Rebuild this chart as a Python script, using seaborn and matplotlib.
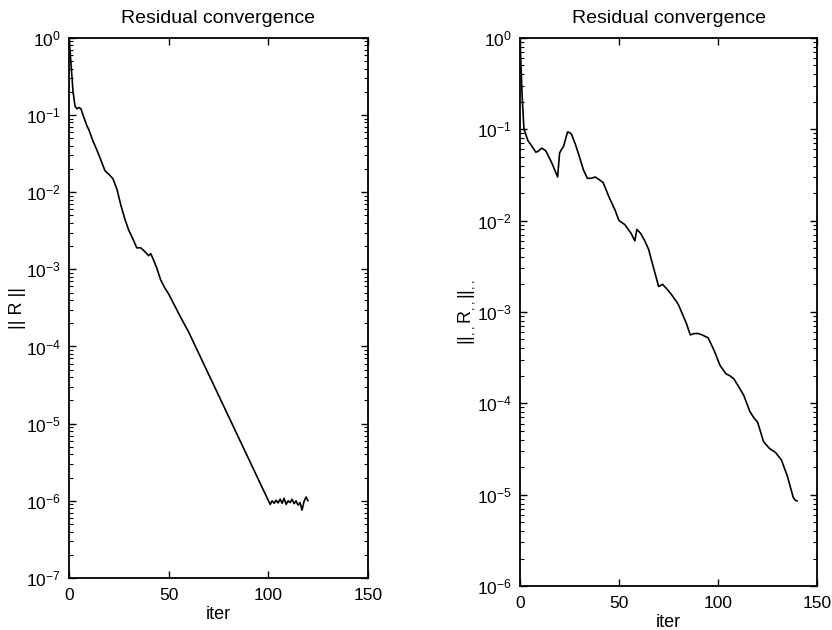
import numpy as np
import pandas as pd
import matplotlib
matplotlib.use("Agg")
import matplotlib.pyplot as plt
import matplotlib.ticker as mticker
import seaborn as sns

# ---- data ----
iters_left = [0, 1, 2, 3, 4, 5, 6, 7, 8, 9, 10, 12, 14, 16, 18, 20, 22, 24, 26, 28,
              30, 32, 34, 36, 38, 40, 41, 42, 44, 46, 48, 50, 53, 56, 60,
              100, 101, 102, 103, 104, 105, 106, 107, 108, 109, 110,
              111, 112, 113, 114, 115, 116, 117, 118, 119, 120]
resid_left = [1.0, 0.45, 0.2, 0.13, 0.12, 0.125, 0.12, 0.10, 0.085, 0.072, 0.064,
              0.046, 0.035, 0.026, 0.019, 0.017, 0.015, 0.011, 0.0068, 0.0045,
              0.0032, 0.0025, 0.0019, 0.0019, 0.0017, 0.0015, 0.0016, 0.0014,
              0.00105, 0.00073, 0.00058, 0.00048, 0.00034, 0.00024, 0.000155,
              1.02e-6, 0.90e-6, 1.0e-6, 0.93e-6, 1.02e-6, 0.94e-6, 1.05e-6,
              0.93e-6, 1.08e-6, 0.90e-6, 1.0e-6, 0.95e-6, 1.05e-6, 0.92e-6,
              1.0e-6, 0.88e-6, 0.95e-6, 0.76e-6, 0.98e-6, 1.12e-6, 1.0e-6]

iters_right = [0, 1, 2, 4, 6, 8, 9, 11, 13, 16, 19, 20, 21, 22, 24, 25, 26, 28,
               30, 32, 34, 36, 38, 40, 42, 45, 48, 50, 53, 56, 58, 59, 61, 63,
               65, 67, 70, 72, 74, 76, 79, 80, 82, 84, 86, 88, 90, 92, 95, 98,
               101, 104, 106, 108, 111, 113, 116, 118, 120, 123, 126, 129, 132,
               135, 138, 139, 140]
resid_right = [1.0, 0.25, 0.1, 0.075, 0.065, 0.056, 0.057, 0.062, 0.058, 0.043,
               0.030, 0.055, 0.060, 0.065, 0.093, 0.092, 0.088, 0.068, 0.050,
               0.036, 0.029, 0.029, 0.030, 0.028, 0.026, 0.018, 0.013, 0.010,
               0.0090, 0.0073, 0.0060, 0.0080, 0.0072, 0.0060, 0.0048, 0.0033,
               0.0019, 0.0020, 0.0018, 0.0016, 0.0013, 0.0012, 0.00095, 0.00075,
               0.00056, 0.00058, 0.00058, 0.00056, 0.00052, 0.00038, 0.00026,
               0.00021, 0.000200, 0.000185, 0.000145, 0.000122, 8.2e-5, 7.0e-5,
               6.2e-5, 3.8e-5, 3.2e-5, 2.9e-5, 2.4e-5, 1.6e-5, 9.3e-6, 8.7e-6,
               8.5e-6]

titles = ["Residual convergence", "Residual convergence"]
xlabels = ["iter", "iter"]
ylabels = [r"|| R ||", r"$||_{,,}\mathrm{R}_{,,}||_{,,}$"]
xticks = [0, 50, 100, 150]
yticks_left = [1e-7, 1e-6, 1e-5, 1e-4, 1e-3, 1e-2, 1e-1, 1e0]
yticks_right = [1e-6, 1e-5, 1e-4, 1e-3, 1e-2, 1e-1, 1e0]

sns.set_theme(style="ticks")
plt.rcParams["font.family"] = ["Liberation Sans", "DejaVu Sans"]
plt.rcParams["mathtext.fontset"] = "custom"
plt.rcParams["mathtext.rm"] = "Liberation Sans"
plt.rcParams["mathtext.it"] = "Liberation Sans:italic"
plt.rcParams["mathtext.bf"] = "Liberation Sans:bold"
plt.rcParams["text.color"] = "black"
plt.rcParams["axes.labelcolor"] = "black"
plt.rcParams["xtick.color"] = "black"
plt.rcParams["ytick.color"] = "black"

df_left = pd.DataFrame({"iter": iters_left, "res": resid_left})
df_right = pd.DataFrame({"iter": iters_right, "res": resid_right})

fig = plt.figure(figsize=(8.32, 6.30), dpi=100)
ax1 = fig.add_axes([0.083, 0.0825, 0.359, 0.8575])
ax2 = fig.add_axes([0.625, 0.0698, 0.357, 0.8702])

sns.lineplot(data=df_left, x="iter", y="res", ax=ax1, color="black",
             linewidth=1.2, estimator=None, sort=False)
sns.lineplot(data=df_right, x="iter", y="res", ax=ax2, color="black",
             linewidth=1.2, estimator=None, sort=False)

ylims = [(1e-7, 1.0), (1e-6, 1.0)]
yticks_all = [yticks_left, yticks_right]
for i, ax in enumerate([ax1, ax2]):
    ax.set_yscale("log")
    ax.set_xlim(0, 150)
    ax.set_ylim(*ylims[i])
    ax.set_xticks(xticks)
    ax.xaxis.set_major_formatter(mticker.FormatStrFormatter("%d"))
    ax.yaxis.set_major_locator(mticker.FixedLocator(yticks_all[i]))
    ax.yaxis.set_major_formatter(mticker.LogFormatterSciNotation(base=10))
    ax.yaxis.set_minor_locator(mticker.LogLocator(base=10, subs=np.arange(2, 10), numticks=20))
    ax.yaxis.set_minor_formatter(mticker.NullFormatter())
    ax.tick_params(axis="both", which="both", direction="in", top=True, right=True,
                   labelsize=12.5, colors="black")
    ax.tick_params(which="major", length=5, width=1)
    ax.tick_params(axis="x", which="major", pad=7)
    ax.tick_params(axis="y", which="major", pad=6)
    ax.tick_params(which="minor", length=3, width=0.8)
    for s in ax.spines.values():
        s.set_visible(True)
        s.set_linewidth(1.3)
        s.set_color("black")
    ax.set_title(titles[i], fontsize=14, pad=11, color="black")
    ax.set_xlabel(xlabels[i], fontsize=13, labelpad=2, color="black")
    ax.set_ylabel(ylabels[i], fontsize=13, labelpad=0, color="black")
    ax.set_facecolor("white")

fig.patch.set_facecolor("white")
fig.savefig("out.png", dpi=100)
